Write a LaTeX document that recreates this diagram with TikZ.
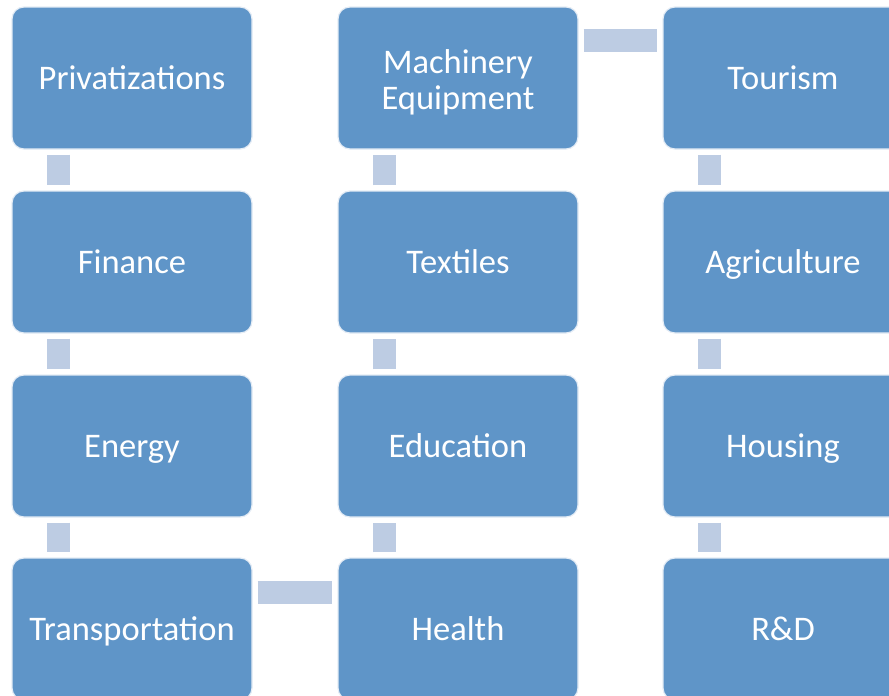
\documentclass[tikz,border=0pt]{standalone}
\usepackage{fontspec}
\setmainfont{Carlito}
\definecolor{boxblue}{HTML}{5F95C8}
\definecolor{boxedge}{HTML}{E4ECF5}
\definecolor{linkblue}{HTML}{BDCCE3}
\begin{document}
\begin{tikzpicture}[x=1pt,y=-1pt,
  sector/.style={draw=boxedge,line width=1.2pt,fill=boxblue,rounded corners=12pt,
    minimum width=240pt,minimum height=142pt,inner sep=0pt,text=white,align=center,
    text height=29pt,text depth=6pt,
    font=\fontsize{34.5}{36}\selectfont},
  twolines/.style={text height=69pt,text depth=6pt},
  link/.style={draw=linkblue,line width=23pt,line cap=butt,shorten <=5pt,shorten >=5pt}]
\useasboundingbox (0,0) rectangle (889,696);
% column 1
\node[sector] (priv)  at (132,78)  {Privatizations};
\node[sector] (fin)   at (132,262) {Finance};
\node[sector] (ener)  at (132,446) {Energy};
\node[sector] (trans) at (132,629) {Transportation};
% column 2
\node[sector,twolines] (mach) at (458,78) {Machinery\\Equipment};
\node[sector] (text)  at (458,262) {Textiles};
\node[sector] (edu)   at (458,446) {Education};
\node[sector] (heal)  at (458,629) {Health};
% column 3
\node[sector] (tour)  at (783,78)  {Tourism};
\node[sector] (agri)  at (783,262) {Agriculture};
\node[sector] (hous)  at (783,446) {Housing};
\node[sector] (rd)    at (783,629) {R\&D};
% links down column 1
\draw[link] ([xshift=-73.5pt]priv.south) -- ([xshift=-73.5pt]fin.north);
\draw[link] ([xshift=-73.5pt]fin.south) -- ([xshift=-73.5pt]ener.north);
\draw[link] ([xshift=-73.5pt]ener.south) -- ([xshift=-73.5pt]trans.north);
% across to column 2, then up
\draw[link] ([yshift=36.5pt]trans.east) -- ([yshift=36.5pt]heal.west);
\draw[link] ([xshift=-73.5pt]heal.north) -- ([xshift=-73.5pt]edu.south);
\draw[link] ([xshift=-73.5pt]edu.north) -- ([xshift=-73.5pt]text.south);
\draw[link] ([xshift=-73.5pt]text.north) -- ([xshift=-73.5pt]mach.south);
% across to column 3, then down
\draw[link] ([yshift=37.5pt]mach.east) -- ([yshift=37.5pt]tour.west);
\draw[link] ([xshift=-73.5pt]tour.south) -- ([xshift=-73.5pt]agri.north);
\draw[link] ([xshift=-73.5pt]agri.south) -- ([xshift=-73.5pt]hous.north);
\draw[link] ([xshift=-73.5pt]hous.south) -- ([xshift=-73.5pt]rd.north);
\end{tikzpicture}
\end{document}
